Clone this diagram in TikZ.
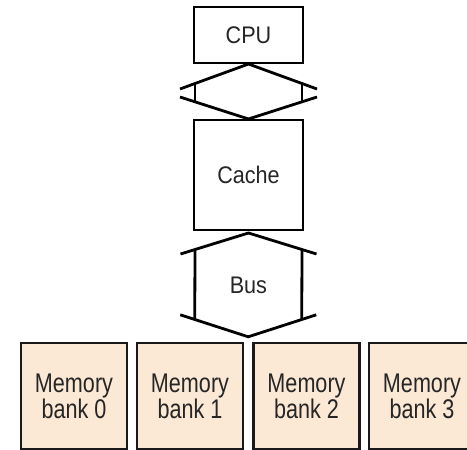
\documentclass[tikz,border=0pt]{standalone}
\usepackage{fontspec}
\setmainfont{Liberation Sans}
\newfontfamily\unitfont[FakeStretch=0.9]{Liberation Sans}
\newfontfamily\bankfont[FakeStretch=0.8]{Liberation Sans}
\usetikzlibrary{calc}
\definecolor{bankfill}{HTML}{FBE8D5}
\definecolor{txt}{HTML}{262626}
\tikzset{
  unitbox/.style={draw=black, line width=2pt, fill=white, inner sep=0pt, minimum width=109pt, text=txt, font=\unitfont\fontsize{24}{26}\selectfont},
  bankbox/.style={draw=black!90, line width=2.4pt, fill=bankfill, inner sep=0pt, minimum width=106pt, minimum height=106pt, align=center, text=txt, font=\bankfont\fontsize{27}{22.5}\selectfont},
  arrowline/.style={line width=2.8pt, draw=black},
  lbl/.style={text=txt, font=\unitfont\fontsize{24}{26}\selectfont, inner sep=0pt}
}
\begin{document}
\begin{tikzpicture}[x=1pt,y=-1pt]
\useasboundingbox (0,0) rectangle (467,450);
% units
\node[unitbox, minimum height=56pt] (cpu) at (248.5,35) {CPU};
\node[unitbox, minimum height=110pt] (cache) at (248.5,175) {Cache};
% memory banks
\node[bankbox] (b0) at (74,396) {Memory\\bank 0};
\node[bankbox] (b1) at (190,396) {Memory\\bank 1};
\node[bankbox] (b2) at (306.5,396) {Memory\\bank 2};
\node[bankbox] (b3) at (422,396) {Memory\\bank 3};
% CPU <-> cache double arrow
\draw[arrowline] ($(cpu.south)+(-68.5,25)$) -- (cpu.south) -- ($(cpu.south)+(68.5,25)$);
\draw[arrowline] ($(cache.north)+(-68.5,-22)$) -- (cache.north) -- ($(cache.north)+(68.5,-22)$);
\draw[arrowline] ($(cpu.south)+(-53.5,19.5)$) -- ($(cache.north)+(-53.5,-17.2)$);
\draw[arrowline] ($(cpu.south)+(53.5,19.5)$) -- ($(cache.north)+(53.5,-17.2)$);
% bus
\coordinate (bustop) at ($(cache.south)+(0,2)$);
\coordinate (busbot) at ($(b1.north east)!0.5!(b2.north west)+(0,-5)$);
\node[lbl] (bus) at ($(bustop)!0.5!(busbot)$) {Bus};
\draw[arrowline] ($(bustop)+(-68,21)$) -- (bustop) -- ($(bustop)+(68,21)$);
\draw[arrowline] ($(busbot)+(-68,-22)$) -- (busbot) -- ($(busbot)+(68,-22)$);
\draw[arrowline] ($(bustop)+(-53.5,16.5)$) -- ($(busbot)+(-53.5,-17.3)$);
\draw[arrowline] ($(bustop)+(53.5,16.5)$) -- ($(busbot)+(53.5,-17.3)$);
\end{tikzpicture}
\end{document}
